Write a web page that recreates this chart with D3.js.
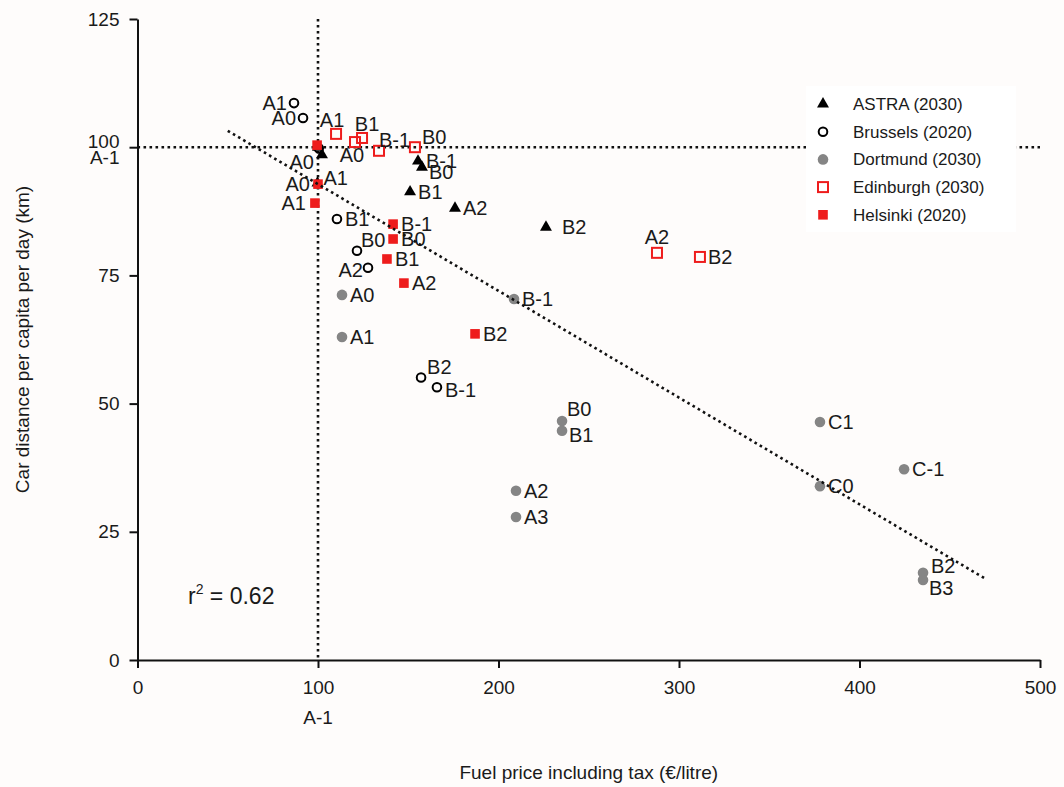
<!DOCTYPE html>
<html>
<head>
<meta charset="utf-8">
<script src="https://cdn.jsdelivr.net/npm/d3@7"></script>
<style>
  body { margin: 0; background: #fefcfb; }
  svg text { font-family: "Liberation Sans", Arial, sans-serif; fill: #1a1a1a; }
</style>
</head>
<body>
<svg id="chart" width="1064" height="787"></svg>
<script>
// values
var astraNames = ['A-1', 'A0', 'A1', 'B-1', 'B0', 'B1', 'A2', 'B2'];
var astraPrice = [100, 102.2, 99.7, 155.4, 157.6, 151, 175.9, 226.3];
var astraDistance = [100, 98.5, 93.0, 97.3, 96.1, 91.3, 88.1, 84.4];

var brusselsNames = ['A1', 'A0', 'A-1', 'B1', 'B0', 'A2', 'B2', 'B-1'];
var brusselsPrice = [86.7, 91.7, 100.4, 110.5, 121.6, 127.7, 157.1, 165.9];
var brusselsDistance = [108.6, 105.7, 99.8, 86.0, 79.8, 76.5, 55.1, 53.2];

var dortmundNames = ['A0', 'A1', 'B-1', 'B0', 'B1', 'A2', 'A3', 'C1', 'C0', 'C-1', 'B2', 'B3'];
var dortmundPrice = [113.3, 113.3, 208.6, 235.2, 235.2, 209.7, 209.7, 378.1, 378.1, 424.7, 435.2, 435.2];
var dortmundDistance = [71.2, 63.0, 70.4, 46.6, 44.7, 33.0, 27.9, 46.4, 33.9, 37.2, 17.0, 15.6];

var edinburghNames = ['A1', 'A0', 'B1', 'B-1', 'B0', 'A2', 'B2'];
var edinburghPrice = [110, 120.5, 124.4, 133.8, 153.7, 287.8, 311.6];
var edinburghDistance = [102.6, 101.0, 101.8, 99.3, 100.0, 79.4, 78.6];

var helsinkiNames = ['A-1', 'A0', 'A1', 'B-1', 'B0', 'B1', 'A2', 'B2'];
var helsinkiPrice = [99.5, 100, 98.3, 141.6, 141.6, 138.2, 147.6, 187];
var helsinkiDistance = [100.4, 92.8, 89.1, 85.0, 82.1, 78.2, 73.5, 63.6];

var seriesNames = ['ASTRA (2030)', 'Brussels (2020)', 'Dortmund (2030)', 'Edinburgh (2030)', 'Helsinki (2020)'];

var trendPrice = [50, 469];
var trendDistance = [103.2, 16];

var xTicks = [0, 100, 200, 300, 400, 500];
var yTicks = [0, 25, 50, 75, 100, 125];
var baseLabel = 'A-1';
var baseValue = 100;
var rSquared = '0.62';

// layout
var LEFT = 137.5, RIGHT = 1040, TOP = 19, BOTTOM = 660;
var RED = '#ee1c1c';
var LABEL_SIZE = 20;

var series = [
  { key: 'ASTRA', label: seriesNames[0], names: astraNames, xs: astraPrice, ys: astraDistance, shape: 'triangle' },
  { key: 'Brussels', label: seriesNames[1], names: brusselsNames, xs: brusselsPrice, ys: brusselsDistance, shape: 'opencircle' },
  { key: 'Dortmund', label: seriesNames[2], names: dortmundNames, xs: dortmundPrice, ys: dortmundDistance, shape: 'greycircle' },
  { key: 'Edinburgh', label: seriesNames[3], names: edinburghNames, xs: edinburghPrice, ys: edinburghDistance, shape: 'opensquare' },
  { key: 'Helsinki', label: seriesNames[4], names: helsinkiNames, xs: helsinkiPrice, ys: helsinkiDistance, shape: 'redsquare' }
];

// label placement: [dx, dy, anchor], null = no label
var labelPos = {
  'ASTRA|A-1': null, 'ASTRA|A0': [-8, 14, 'end'], 'ASTRA|A1': [6, 2], 'ASTRA|B0': [7, 12], 'ASTRA|B2': [16, 7],
  'Brussels|A1': [-7, 7, 'end'], 'Brussels|A0': [-7, 7, 'end'], 'Brussels|A-1': null, 'Brussels|B0': [4, -4],
  'Brussels|A2': [-5, 9, 'end'], 'Brussels|B2': [6, -3], 'Brussels|B-1': [8, 10],
  'Dortmund|B0': [5, -5], 'Dortmund|B1': [7, 11], 'Dortmund|B2': [8, 0], 'Dortmund|B3': [6, 15],
  'Edinburgh|A1': [-4, -7, 'middle'], 'Edinburgh|B1': [5, -7, 'middle'], 'Edinburgh|A0': [-3, 20, 'middle'],
  'Edinburgh|B-1': [0, -4], 'Edinburgh|B0': [7, -3], 'Edinburgh|A2': [0, -9, 'middle'],
  'Helsinki|A-1': null, 'Helsinki|A0': [-8, 7, 'end'], 'Helsinki|A1': [-9, 7, 'end']
};

var svg = d3.select('#chart');

var x = d3.scaleLinear().domain([0, 500]).range([LEFT, RIGHT]);
var y = d3.scaleLinear().domain([0, 125]).range([BOTTOM, TOP]);

// reference lines through the base case
var dotted = { 'stroke': '#111', 'stroke-width': 2.6, 'stroke-dasharray': '2.6,3.4', 'fill': 'none' };
function applyStyle (sel, st) {
  Object.keys(st).forEach(function (k) { sel.attr(k, st[k]); });
  return sel;
}
applyStyle(svg.append('line')
  .attr('x1', x(0)).attr('x2', x(500))
  .attr('y1', y(baseValue)).attr('y2', y(baseValue)), dotted);
applyStyle(svg.append('line')
  .attr('x1', x(baseValue)).attr('x2', x(baseValue))
  .attr('y1', y(125)).attr('y2', y(0)), dotted);

// axes
var xAxis = svg.append('g')
  .attr('transform', 'translate(0,' + BOTTOM + ')')
  .call(d3.axisBottom(x).tickValues(xTicks).tickSize(8).tickSizeOuter(0).tickPadding(10));
var yAxis = svg.append('g')
  .attr('transform', 'translate(' + LEFT + ',0)')
  .call(d3.axisLeft(y).tickValues(yTicks).tickSize(8).tickSizeOuter(0).tickPadding(10));

[xAxis, yAxis].forEach(function (a) {
  a.select('.domain').attr('stroke', '#111').attr('stroke-width', 2);
  a.selectAll('.tick line').attr('stroke', '#111').attr('stroke-width', 2);
  a.selectAll('.tick text').attr('font-size', 19).attr('fill', '#1a1a1a')
    .style('font-family', '"Liberation Sans", Arial, sans-serif');
});
xAxis.selectAll('.tick text').attr('dy', '0.85em');
yAxis.selectAll('.tick text').filter(function (d) { return d === baseValue; }).attr('dy', '0');

svg.append('text')
  .attr('x', x(baseValue)).attr('y', BOTTOM + 64)
  .attr('text-anchor', 'middle').attr('font-size', 19)
  .text(baseLabel);
svg.append('text')
  .attr('x', LEFT - 18).attr('y', y(baseValue) + 17)
  .attr('text-anchor', 'end').attr('font-size', 19)
  .text(baseLabel);

svg.append('text')
  .attr('x', (LEFT + RIGHT) / 2).attr('y', 779)
  .attr('text-anchor', 'middle').attr('font-size', 19)
  .text('Fuel price including tax (€/litre)');
svg.append('text')
  .attr('transform', 'translate(29,' + ((TOP + BOTTOM) / 2) + ') rotate(-90)')
  .attr('text-anchor', 'middle').attr('font-size', 19)
  .text('Car distance per capita per day (km)');

// markers
function drawShape (g, shape) {
  if (shape === 'triangle') {
    g.append('path').attr('d', d3.symbol(d3.symbolTriangle, 62)()).attr('fill', '#000');
  } else if (shape === 'opencircle') {
    g.append('circle').attr('r', 4.3).attr('fill', 'none').attr('stroke', '#000').attr('stroke-width', 2);
  } else if (shape === 'greycircle') {
    g.append('circle').attr('r', 5.3).attr('fill', '#858585');
  } else if (shape === 'opensquare') {
    g.append('rect').attr('x', -5).attr('y', -5).attr('width', 10).attr('height', 10)
      .attr('fill', 'none').attr('stroke', RED).attr('stroke-width', 2);
  } else {
    g.append('rect').attr('x', -4.8).attr('y', -4.8).attr('width', 9.6).attr('height', 9.6).attr('fill', RED);
  }
}

var pointLayer = svg.append('g');
var labelLayer = svg.append('g');

series.forEach(function (s) {
  var pts = s.names.map(function (n, i) { return { name: n, px: s.xs[i], py: s.ys[i] }; });

  pointLayer.selectAll('.pt-' + s.key)
    .data(pts)
    .enter().append('g')
    .attr('class', 'pt-' + s.key)
    .attr('transform', function (d) { return 'translate(' + x(d.px) + ',' + y(d.py) + ')'; })
    .each(function () { drawShape(d3.select(this), s.shape); });

  labelLayer.selectAll('.lb-' + s.key)
    .data(pts.filter(function (d) { return labelPos[s.key + '|' + d.name] !== null; }))
    .enter().append('text')
    .attr('class', 'lb-' + s.key)
    .attr('font-size', LABEL_SIZE)
    .each(function (d) {
      var p = labelPos[s.key + '|' + d.name] || [8, 7, 'start'];
      d3.select(this)
        .attr('x', x(d.px) + p[0])
        .attr('y', y(d.py) + p[1])
        .attr('text-anchor', p[2] || 'start');
    })
    .text(function (d) { return d.name; });
});

// trend line
applyStyle(svg.append('line')
  .attr('x1', x(trendPrice[0])).attr('y1', y(trendDistance[0]))
  .attr('x2', x(trendPrice[1])).attr('y2', y(trendDistance[1])), dotted);

var r2 = svg.append('text')
  .attr('x', 188).attr('y', 604).attr('font-size', 23);
r2.append('tspan').text('r');
r2.append('tspan').attr('font-size', 14).attr('dy', -10).text('2');
r2.append('tspan').attr('dy', 10).text(' = ' + rSquared);

// legend
var legend = svg.append('g').attr('transform', 'translate(806,86)');
legend.append('rect').attr('width', 210).attr('height', 146).attr('fill', '#fff');
series.forEach(function (s, i) {
  var row = legend.append('g').attr('transform', 'translate(17,' + (18 + i * 27.7) + ')');
  drawShape(row.append('g'), s.shape);
  row.append('text').attr('x', 30).attr('y', 6).attr('font-size', 17).text(s.label);
});
</script>
</body>
</html>
